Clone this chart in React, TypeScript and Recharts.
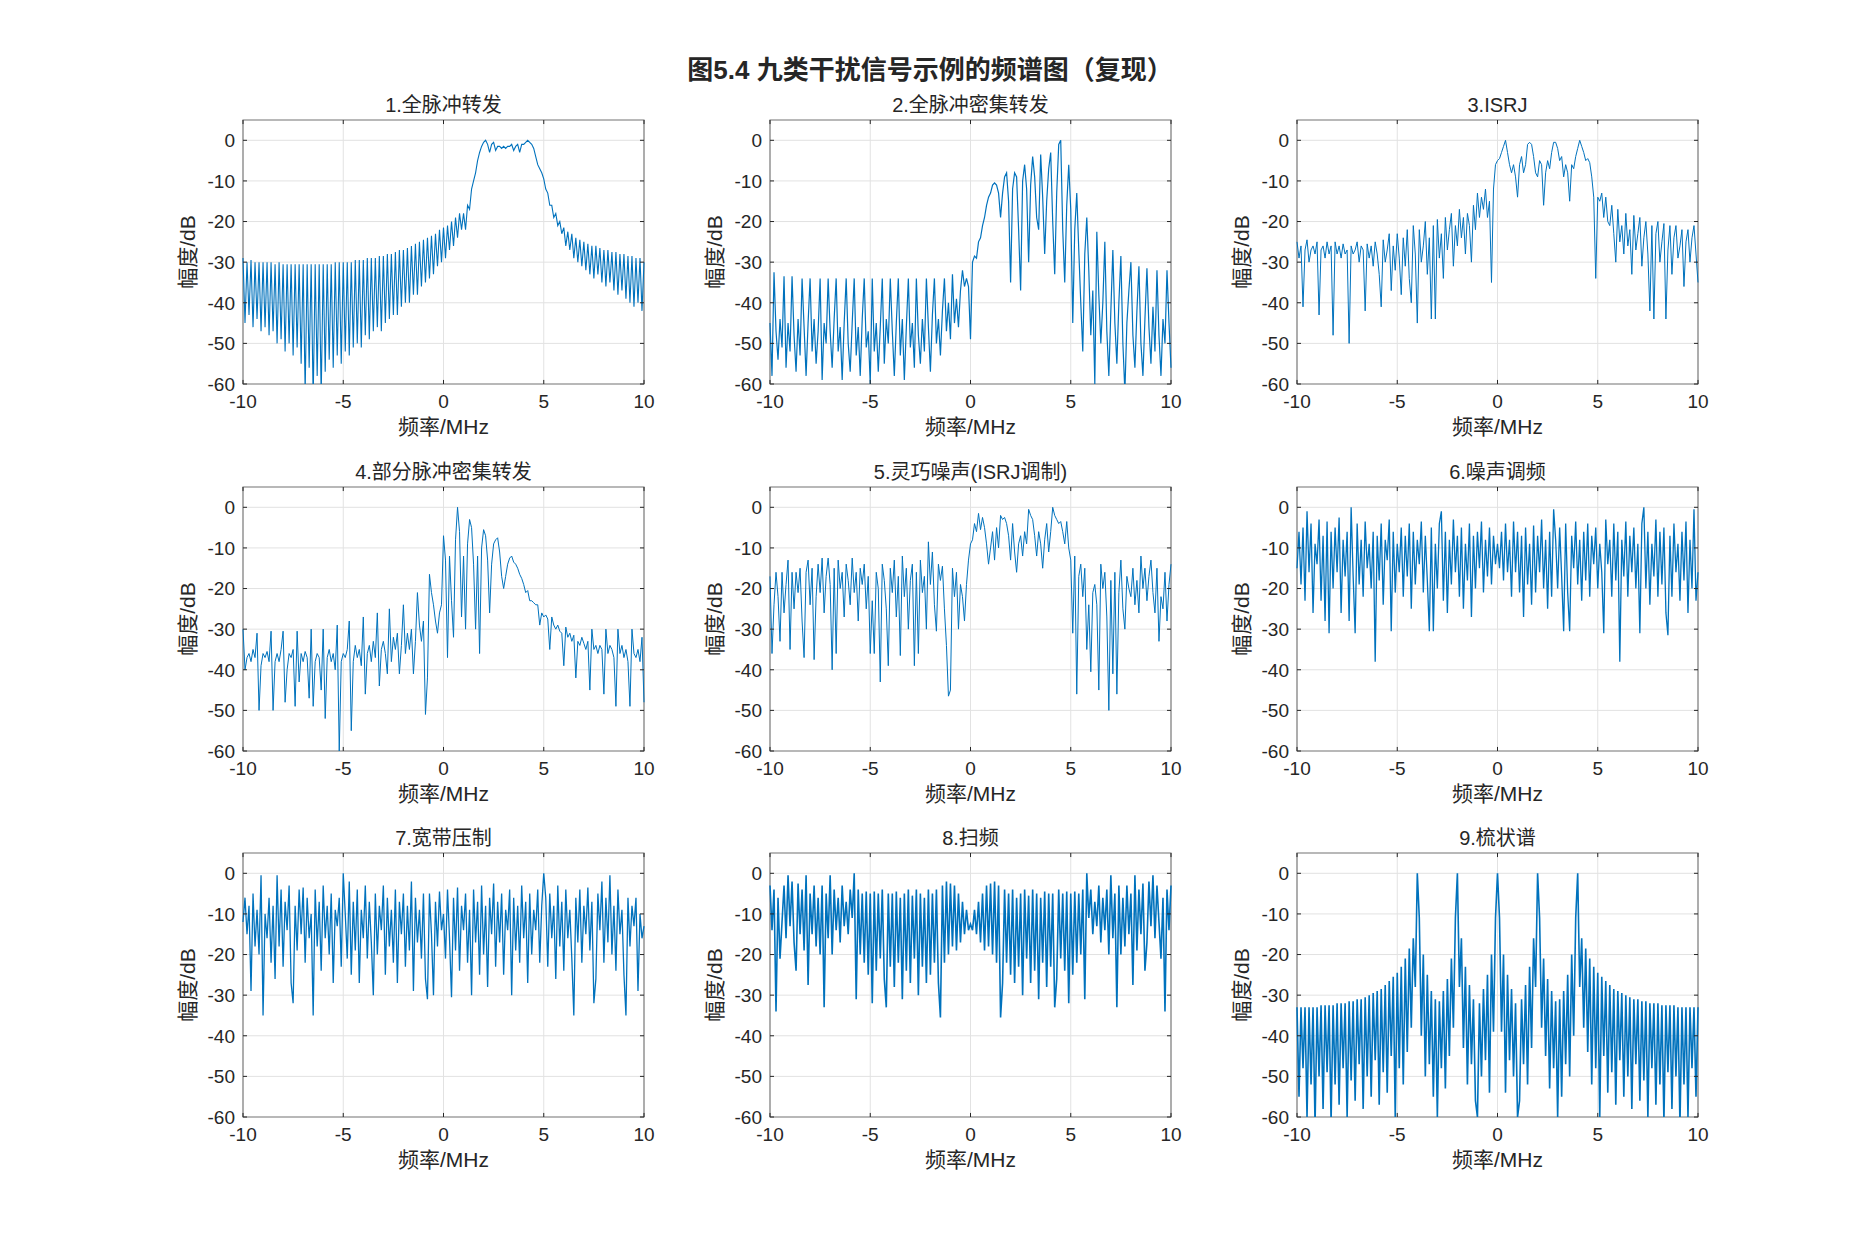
import React from 'react';
import {
  LineChart,
  Line,
  XAxis,
  YAxis,
  CartesianGrid,
  ReferenceArea,
  ReferenceLine,
} from 'recharts';

// every spectrum is sampled from -10 MHz to 10 MHz, one value per 0.1 MHz (201 values)
const FREQ_START = -10;
const FREQ_STEP = 0.1;

const xTicks = [-10, -5, 0, 5, 10];
const yTicks = [-60, -50, -40, -30, -20, -10, 0];

const titles = [
  '1.全脉冲转发',
  '2.全脉冲密集转发',
  '3.ISRJ',
  '4.部分脉冲密集转发',
  '5.灵巧噪声(ISRJ调制)',
  '6.噪声调频',
  '7.宽带压制',
  '8.扫频',
  '9.梳状谱',
];

// values in dB (1 MHz per row)
const fullPulseRepeat = [
  -29, -45, -30, -43, -29.5, -46, -30, -44, -30, -47,
  -30, -46, -30, -48, -30, -47, -30.5, -50, -30, -49,
  -30.5, -52, -30.5, -50, -30.5, -53, -30.5, -51, -30.5, -55,
  -30.5, -62, -30.5, -56, -30.5, -64, -30.5, -58, -30.5, -63,
  -30.5, -57, -30.5, -54, -30.5, -56, -30, -53, -30, -55,
  -30, -52, -30, -53, -30, -51, -29.5, -50, -29.5, -51,
  -29.5, -48, -29, -49, -29, -47, -29, -46, -28.5, -47,
  -28.5, -45, -28, -44, -28, -43, -27.5, -43, -27, -41,
  -27, -40, -26.5, -40, -26, -38, -25.5, -38, -25, -36,
  -24.5, -35, -24, -34, -23.5, -33, -23, -31, -22, -30,
  -21.5, -29, -21, -27, -20, -26, -19, -24, -18, -22,
  -18, -22, -16, -17, -12, -10, -8, -5, -3, -1.5,
  -0.5, 0, -1, -3, -1, -0.5, -2.5, -1.5, -1.5, -2,
  -1.5, -2, -1.5, -1.5, -1, -2.5, -1.5, -1, -3, -1,
  -1, -0.5, 0, -0.5, -1, -2, -4, -6, -7, -8,
  -9.5, -12, -13, -16, -16, -19, -18, -21, -20, -23,
  -21.5, -26, -22.5, -27, -23, -29, -24, -30, -24.5, -31,
  -25, -32, -25.5, -33, -26, -34, -26, -33, -26.5, -35,
  -27, -36, -27, -35, -27.5, -37, -27.5, -38, -28, -37,
  -28, -39, -28.5, -40, -28.5, -41, -29, -40, -29, -42,
  -30,
];

const fullPulseDense = [
  -45, -58, -32.5, -47, -54, -44, -51, -33.5, -56, -45,
  -52, -33.5, -48, -57, -44, -53, -34, -46, -58, -45,
  -34, -52, -44, -55, -47, -34, -59, -45, -50, -34,
  -47, -56, -44, -34, -52, -46, -59, -45, -34, -50,
  -57, -45, -34, -53, -46, -58, -44, -34, -51, -47,
  -60, -34, -52, -45, -57, -46, -34, -55, -44, -50,
  -34, -47, -58, -45, -34, -53, -44, -59, -46, -34,
  -51, -45, -56, -34, -48, -55, -44, -52, -34, -46,
  -57, -43, -34, -50, -44, -53, -42, -34, -47, -40,
  -49, -33, -45, -39, -46, -37, -32, -36, -34, -36,
  -49, -30, -28.5, -29, -25, -24, -21, -19, -16, -14,
  -13, -11, -10.5, -11, -13, -19, -13, -9, -8, -15,
  -35, -12, -8, -9, -22, -37, -10, -6, -12, -30,
  -11, -4, -9, -19, -22, -3.5, -14, -28, -15, -7,
  -3, -20, -33, -13, -1, 0, -22, -35, -16, -6,
  -17, -45, -22, -13, -27, -40, -52, -28, -19, -32,
  -48, -37, -60, -22.5, -38, -50, -40, -25, -47, -58,
  -42, -27, -45, -55, -40, -28.5, -50, -62, -45, -37,
  -30, -48, -56, -42, -31, -50, -58, -44, -31.5, -46,
  -55, -41, -52, -32, -48, -58, -44, -50, -32, -45,
  -56,
];

const isrj = [
  -25, -29, -26, -41, -27, -24.5, -30, -27, -26, -28,
  -25, -43, -27, -26, -29, -25, -28, -26, -48, -25,
  -28, -26, -29, -25.5, -28, -27, -50, -26, -28, -27,
  -25, -30, -26, -27, -42, -25.5, -29, -26, -31, -25,
  -28, -33, -41, -24.5, -30, -27, -23, -37, -26, -32,
  -23, -29, -38, -24, -31, -22, -34, -40, -21, -28,
  -45, -22, -30, -26, -20, -33, -24, -44, -21, -44,
  -19.5, -29, -23, -34, -19, -27, -22, -18, -31, -21,
  -26, -17, -24, -19, -28, -18, -21, -30, -16, -22,
  -13, -19, -14, -17, -12, -19, -15, -35, -12, -6,
  -5, -4.5, -3, -1.5, 0, -3, -6, -8, -6, -9,
  -14, -6, -4, -8, -6, -1, -0.5, -1, -4, -8,
  -9, -5, -6, -16, -8, -5, -7, -3, -0.5, -0.5,
  -2, -5, -4, -9, -6, -8, -15, -6, -7, -4,
  -2, 0, -1.5, -3, -5, -4.5, -5.5, -9, -14, -34,
  -14, -15, -13, -19, -14, -20, -21, -16, -23, -30,
  -17, -25, -21, -28, -18, -26, -22, -33, -18.5, -27,
  -23, -19, -31, -24, -20, -28, -42, -21, -44, -23,
  -20, -30, -25, -20.5, -44, -27, -21, -33, -24, -21,
  -29, -26, -22, -36, -25, -22, -30, -24, -21, -28,
  -35,
];

const partialPulseDense = [
  -30, -40, -37, -36, -38, -35, -37, -31, -50, -39,
  -36, -37, -35.5, -38, -30.5, -50, -38, -36, -38, -35,
  -30.5, -48, -40, -36, -37, -35, -49, -30.5, -43, -36,
  -38, -35.5, -37, -47, -30, -49, -38, -36, -37, -45,
  -30, -52, -37, -35, -38, -36, -40, -29, -60, -38,
  -36, -37, -35, -28, -55, -38, -34, -37, -35, -39,
  -27, -46, -36, -34, -38, -33, -37, -26, -44, -35,
  -33, -36, -41, -25, -38, -32, -35, -31, -41, -34,
  -24, -36, -31, -35, -30, -41, -33, -21, -29, -33,
  -28, -51, -42, -16.5, -21, -24, -28, -31, -26, -24,
  -7, -13, -37, -12, -23, -32, -8, 0, -6, -27,
  -12, -30, -9, -3, -5, -14, -30, -12, -36, -10,
  -5.5, -7, -13, -26, -14, -9, -8, -7.5, -11, -17,
  -20, -17, -14, -12.5, -12, -13.5, -14, -15, -16.5, -17.5,
  -19, -21, -20.5, -23, -23, -23.5, -24, -24, -29, -26,
  -27, -26.5, -27.5, -35, -27, -29, -30, -29, -30.5, -31,
  -39, -29.5, -32, -31, -33, -31.5, -42, -33, -34, -32,
  -33.5, -35, -33, -45, -30, -35, -34, -36, -34, -35,
  -46, -30, -36, -34, -35, -37, -49, -30, -36, -34,
  -37, -35, -38, -49, -30, -36, -37, -35, -38, -32,
  -48,
];

const smartNoise = [
  -17, -36, -24, -16, -22, -33, -16, -26, -19, -13,
  -35, -16, -25, -16, -21, -15, -28, -37, -16, -13,
  -24, -15, -37.5, -22, -14, -21, -12.5, -26, -17, -12.5,
  -19, -40, -15, -36, -13, -20, -16, -27, -14, -18,
  -24, -12.5, -21, -16, -28, -15, -19, -14, -25, -17,
  -36, -23, -36, -16, -20, -43, -14, -18, -25, -39,
  -15, -21, -13, -27, -17, -36.5, -12, -22, -15, -30,
  -18, -14, -39, -16, -36, -13, -21, -17, -30, -8.5,
  -19, -11, -24, -30.5, -14, -18, -14.5, -25, -34, -46.5,
  -45, -15, -22, -16, -30, -19, -22, -28, -19, -13,
  -9, -8, -4, -6, -1.5, -5.5, -2.5, -5, -9, -14,
  -10, -6, -13, -5, -10, -2, -3, -2.5, -4, -7,
  -13, -4, -11, -16, -9, -7, -12, -6, -9, -0.5,
  -2, -3, -7, -12, -6, -9, -15, -8, -4, -11,
  -6, 0, -2, -3, -4, -3.5, -6, -9, -3.5, -10,
  -13, -31, -12, -46, -17, -14, -22, -15, -35, -24,
  -40.5, -21, -19, -24, -45, -14, -20, -16, -27, -50,
  -18, -41, -16, -46, -21, -13, -25, -30, -17, -20,
  -22, -15, -24, -18, -26, -12, -20, -15, -23, -17,
  -13, -21, -26, -15, -33, -22, -25, -16, -28, -19,
  -14,
];

const noiseFm = [
  -15, -6, -19, -5, -23, -1, -16, -4, -26, -9,
  -14, -3, -23, -7, -28, -3.5, -31, -6, -20, -5,
  -16, -2.5, -26, -8, -17, -6, -28, 0, -17, -31,
  -4, -19, -8, -22, -3.5, -15, -9, -20, -6, -38,
  -7, -18, -4, -24, -8, -13, -3, -30.5, -6, -21,
  -9, -16, -5, -22, -7, -17, -4, -25, -6, -19,
  -8, -14, -3.5, -21, -7, -18, -30.5, -5, -30.5, -9,
  -20, -4, -1, -23, -6, -26, -8, -19, -3, -16,
  -7, -22, -5, -25, -9, -18, -4, -27, -7, -20,
  -6, -15, -3.5, -21, -8, -17, -5, -19, -7, -14,
  -9, -15, -6, -18, -4, -16, -8, -22, -3.5, -16,
  -6, -21, -7, -27, -5, -19, -9, -24, -4.5, -21,
  -7, -16, -3, -20, -8, -25, -6, -22, -0.5, -8,
  -20, -5, -17, -30.5, -4, -21, -30.5, -7, -15, -3.5,
  -19, -8, -23, -6, -18, -4, -22, -7, -14, -5,
  -20, -9, -16, -31, -3, -14, -8, -22, -4, -18,
  -6, -38, -8, -17, -3.5, -22, -7, -16, -5, -20,
  -9, -31, -4, 0, -20, -6, -24, -9, -17, -3,
  -22, -6, -19, -5, -26, -31.5, -7, -22, -4, -16,
  -9, -23, -6, -18, -3.5, -26, -8, -20, -0.5, -23,
  -16,
];

const broadband = [
  -12, -6, -15, -8, -29, -5, -18, -9, -20, -0.5,
  -35, -10, -16, -6, -22, -8, -26, -0.5, -18, -4,
  -23, -7, -14, -3, -27, -32, -8, -19, -4, -15,
  -3.5, -22, -6, -16, -10, -35, -4, -18, -7, -24,
  -3, -16, -8, -20, -5, -27, -9, -13, -6, -23,
  0, -10, -21, -2, -25, -7, -19, -4, -27, -9,
  -16, -3, -21, -7, -17, -30, -5, -20, -8, -14,
  -3, -25, -6, -18, -9, -22, -4, -27, -7, -15,
  -5, -23, -8, -19, -2, -29, -6, -17, -9, -21,
  -5, -26, -31, -5, -15, -30, -7, -18, -4.5, -14,
  -10, -21, -4, -16, -30.5, -6, -19, -3.5, -24, -8,
  -14, -5, -22, -9, -30, -4, -17, -7, -25, -3,
  -20, -8, -28, -6, -15, -2.5, -23, -7, -17, -5,
  -25, -9, -14, -4, -30, -6, -19, -8, -22, -3,
  -16, -7, -27, -5, -20, -9, -14, -4, -22, -8,
  0, -6, -23, -5, -16, -8, -26, -3, -18, -7,
  -24, -4, -16, -9, -21, -35, -6, -17, -4, -22,
  -8, -15, -3.5, -19, -7, -32, -26, -5, -14, -2,
  -22, -6, -17, -0.5, -20, -8, -24, -4, -15, -9,
  -25, -35, -6, -18, -8, -13, -6, -29, -10, -16,
  -13,
];

const sweep = [
  -3, -14, -4, -34, -6, -21, -12, -3, -16, -0.5,
  -13, -2, -17, -24, -2.5, -15, -4, -19, -0.5, -27.5,
  -5, -15, -3, -18, -6, -20, -3, -33, -5, -16,
  -0.5, -20, -4, -14, -6, -17, -3, -13, -7, -15,
  -4, -11, 0, -31, -4, -20, -5, -22, -4.5, -25,
  -5, -32, -4.5, -24, -5, -21, -4, -26, -33, -5,
  -23, -5, -28, -4.5, -22, -6, -31, -5, -24, -4,
  -27, -5.5, -21, -4, -30, -5, -23, -6, -27, -4,
  -25, -5, -22, -4, -27, -35.5, -3, -22, -2, -20,
  -2.5, -18, -3, -19, -5, -17, -7, -15, -9, -14,
  -12.5, -14, -9, -15, -7, -17, -5, -19, -3, -18,
  -2.5, -20, -2, -22, -3, -35.5, -27, -4, -22, -5,
  -25, -4, -27, -6, -23, -5, -30, -4, -21, -5.5,
  -27, -4, -24, -5, -31, -6, -22, -4.5, -28, -5,
  -23, -5, -33, -26, -4, -21, -5, -24, -4.5, -32,
  -5, -25, -4.5, -22, -5, -20, -4, -31, 0, -11,
  -4, -15, -7, -13, -3, -17, -6, -14, -4, -20,
  -0.5, -16, -5, -33, -3, -20, -6, -18, -3, -15,
  -5, -27.5, -0.5, -19, -4, -15, -2.5, -24, -17, -2,
  -13, -0.5, -16, -3, -12, -21, -6, -34, -4, -14,
  -3,
];

const comb = [
  -33, -55, -33, -48, -33, -60, -33, -52, -33, -62,
  -33, -50, -32.5, -58, -32.5, -49, -32.5, -61, -32.5, -52,
  -32, -57, -32, -48, -32, -60, -31.5, -51, -31.5, -56,
  -31, -47, -31, -58, -30.5, -50, -30, -55, -29.5, -46,
  -29, -57, -28.5, -49, -27.5, -54, -26.5, -45, -25.5, -60,
  -24.5, -48, -23, -52, -21, -44, -18.5, -38, -16, -28,
  0, -11, -40, -20, -50, -25, -47, -29, -55, -31,
  -60, -31.5, -48, -29, -53, -26, -45, -21, -38, -11,
  0, -28, -16, -43, -23, -52, -27.5, -47, -31, -56,
  -60, -32, -50, -28.5, -46, -25, -54, -20, -39, -11,
  0, -11, -39, -20, -54, -25, -46, -28.5, -50, -32,
  -60, -56, -31, -47, -27.5, -52, -23, -43, -16, -28,
  0, -11, -38, -21, -45, -26, -53, -29, -48, -31.5,
  -60, -31, -55, -29, -47, -25, -50, -20, -40, -11,
  0, -28, -16, -38, -18.5, -44, -21, -52, -23, -48,
  -24.5, -60, -25.5, -45, -26.5, -54, -27.5, -49, -28.5, -57,
  -29, -46, -29.5, -55, -30, -50, -30.5, -58, -31, -47,
  -31, -56, -31.5, -51, -31.5, -60, -32, -48, -32, -57,
  -32, -52, -32.5, -61, -32.5, -49, -32.5, -58, -32.5, -50,
  -33, -62, -33, -52, -33, -60, -33, -48, -33, -55,
  -33,
];

const spectra = [
  fullPulseRepeat,
  fullPulseDense,
  isrj,
  partialPulseDense,
  smartNoise,
  noiseFm,
  broadband,
  sweep,
  comb,
];

// the densest traces read as a filled band in the original, so they get a heavier stroke
const lineWidths = [1.1, 1.2, 1, 1, 1, 1.3, 1.3, 1.6, 1.6];

const FONT = '"Liberation Sans", Arial, "Noto Sans CJK SC", sans-serif';
const TEXT = '#262626';
const BLUE = '#0072BD';

// axes boxes measured on the figure
const colLeft = [243, 770, 1297];
const rowTop = [120, 487, 853];
const AX_W = 401;
const AX_H = 264;
const PAD_L = 90;
const PAD_T = 12;
const PAD_R = 14;
const PAD_B = 40;

function Panel({
  title,
  values,
  width,
  left,
  top,
}: {
  title: string;
  values: number[];
  width: number;
  left: number;
  top: number;
}) {
  const data = values.map((v, i) => ({
    f: Math.round((FREQ_START + i * FREQ_STEP) * 10) / 10,
    v,
  }));
  const w = PAD_L + AX_W + PAD_R;
  const h = PAD_T + AX_H + PAD_B;
  const tick = { fill: TEXT, fontSize: 19, fontFamily: FONT };

  return (
    <>
      <div
        style={{
          position: 'absolute',
          left,
          top: top - 29,
          width: AX_W,
          height: 28,
          lineHeight: '28px',
          textAlign: 'center',
          fontSize: 20,
          color: TEXT,
          whiteSpace: 'nowrap',
        }}
      >
        {title}
      </div>
      <div style={{ position: 'absolute', left: left - PAD_L, top: top - PAD_T, width: w, height: h }}>
        <LineChart width={w} height={h} data={data} margin={{ top: PAD_T, right: PAD_R, bottom: 0, left: 0 }}>
          <CartesianGrid stroke="#e2e2e2" strokeWidth={1} />
          <XAxis
            dataKey="f"
            type="number"
            domain={[-10, 10]}
            ticks={xTicks}
            interval={0}
            height={PAD_B}
            tickSize={0}
            tickMargin={11}
            axisLine={false}
            tick={tick}
          />
          <YAxis
            type="number"
            domain={[-60, 5]}
            ticks={yTicks}
            interval={0}
            allowDataOverflow
            width={PAD_L}
            tickSize={0}
            tickMargin={8}
            axisLine={false}
            tick={tick}
          />
          <Line
            type="linear"
            dataKey="v"
            stroke={BLUE}
            strokeWidth={width}
            dot={false}
            activeDot={false}
            isAnimationActive={false}
          />
          <ReferenceArea x1={-10} x2={10} y1={-60} y2={5} fill="none" stroke="#808080" strokeWidth={1.2} />
          {yTicks.map((t) => (
            <ReferenceLine key={'l' + t} segment={[{ x: -10, y: t }, { x: -9.8, y: t }]} stroke={TEXT} />
          ))}
          {yTicks.map((t) => (
            <ReferenceLine key={'r' + t} segment={[{ x: 9.8, y: t }, { x: 10, y: t }]} stroke={TEXT} />
          ))}
          {xTicks.map((t) => (
            <ReferenceLine key={'b' + t} segment={[{ x: t, y: -60 }, { x: t, y: -59 }]} stroke={TEXT} />
          ))}
          {xTicks.map((t) => (
            <ReferenceLine key={'t' + t} segment={[{ x: t, y: 5 }, { x: t, y: 4 }]} stroke={TEXT} />
          ))}
        </LineChart>
      </div>
      <div
        style={{
          position: 'absolute',
          left,
          top: top + AX_H + 29,
          width: AX_W,
          height: 28,
          lineHeight: '28px',
          textAlign: 'center',
          fontSize: 21,
          color: TEXT,
        }}
      >
        频率/MHz
      </div>
      <div
        style={{
          position: 'absolute',
          left: left - 55 - 100,
          top: top + AX_H / 2 - 14,
          width: 200,
          height: 28,
          lineHeight: '28px',
          textAlign: 'center',
          fontSize: 21,
          color: TEXT,
          transform: 'rotate(-90deg)',
        }}
      >
        幅度/dB
      </div>
    </>
  );
}

export default function App() {
  return (
    <div
      style={{
        position: 'absolute',
        left: 0,
        top: 0,
        width: 1875,
        height: 1250,
        background: '#ffffff',
        fontFamily: FONT,
      }}
    >
      <div
        style={{
          position: 'absolute',
          left: 930 - 400,
          top: 70 - 18,
          width: 800,
          height: 36,
          lineHeight: '36px',
          textAlign: 'center',
          fontSize: 26,
          fontWeight: 'bold',
          color: TEXT,
        }}
      >
        图5.4 九类干扰信号示例的频谱图（复现）
      </div>
      {spectra.map((values, i) => (
        <Panel
          key={titles[i]}
          title={titles[i]}
          values={values}
          width={lineWidths[i]}
          left={colLeft[i % 3]}
          top={rowTop[Math.floor(i / 3)]}
        />
      ))}
    </div>
  );
}
